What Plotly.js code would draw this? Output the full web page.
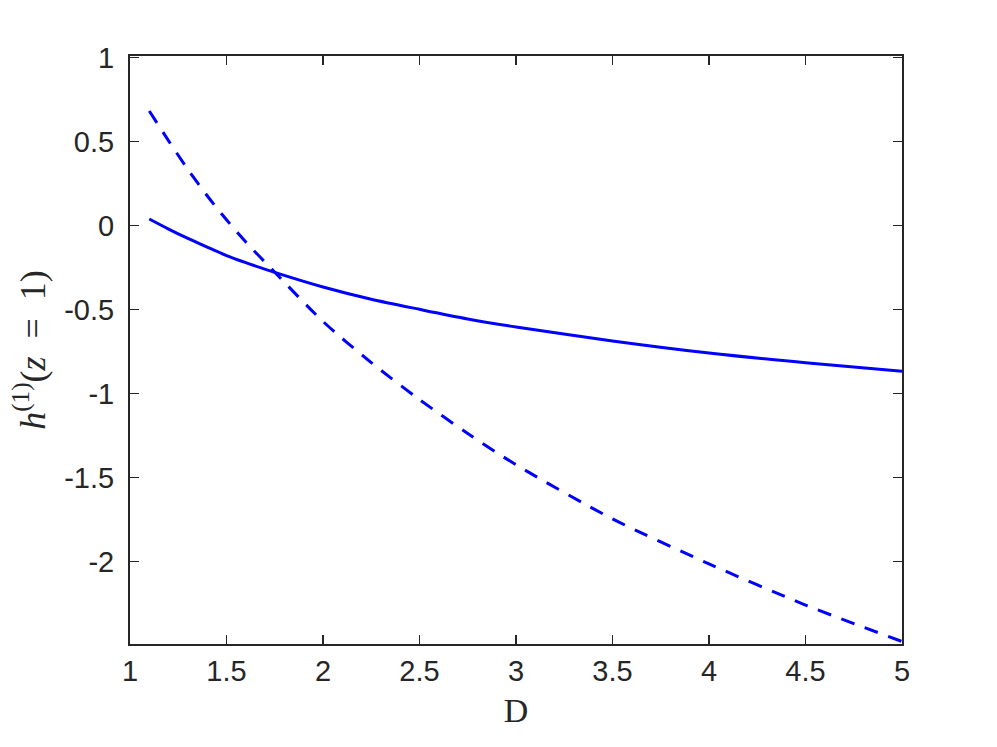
<!DOCTYPE html>
<html>
<head>
<meta charset="utf-8">
<script src="https://cdn.plot.ly/plotly-3.0.1.min.js"></script>
<style>
  html, body { margin: 0; padding: 0; background: #fff; }
  #plot { width: 997px; height: 747px; }
</style>
</head>
<body>
<div id="plot"></div>
<script>
// values
var D = [1.1, 1.2, 1.3, 1.4, 1.5, 1.6, 1.75, 2, 2.25, 2.5, 2.75, 3, 3.5, 4, 4.5, 5];
var hSolid = [0.04, -0.02, -0.076, -0.128, -0.178, -0.22, -0.278, -0.365, -0.438, -0.498, -0.555, -0.603, -0.686, -0.758, -0.816, -0.867];
var hDashed = [0.683, 0.505, 0.335, 0.178, 0.035, -0.097, -0.277, -0.57, -0.815, -1.035, -1.237, -1.423, -1.745, -2.013, -2.258, -2.475];

var xTicks = [1, 1.5, 2, 2.5, 3, 3.5, 4, 4.5, 5];
var xTickText = ['1', '1.5', '2', '2.5', '3', '3.5', '4', '4.5', '5'];
var yTicks = [1, 0.5, 0, -0.5, -1, -1.5, -2];
var yTickText = ['1', '0.5', '0', '-0.5', '-1', '-1.5', '-2'];

var axisColor = '#262626';

var traces = [
  {
    x: D, y: hSolid,
    type: 'scatter', mode: 'lines',
    line: {color: '#0000ff', width: 3, shape: 'spline', smoothing: 0.8},
    hoverinfo: 'skip'
  },
  {
    x: D, y: hDashed,
    type: 'scatter', mode: 'lines',
    line: {color: '#0000ff', width: 3, shape: 'spline', smoothing: 0.8, dash: '14px,11px'},
    hoverinfo: 'skip'
  }
];

var layout = {
  width: 997,
  height: 747,
  margin: {l: 130, r: 95, t: 56, b: 103},
  paper_bgcolor: '#ffffff',
  plot_bgcolor: '#ffffff',
  showlegend: false,
  font: {family: 'Liberation Sans, Arial, sans-serif', color: axisColor},
  xaxis: {
    range: [1, 5],
    tickvals: xTicks,
    ticktext: xTickText,
    ticks: 'inside',
    ticklen: 9,
    tickwidth: 1.5,
    tickcolor: axisColor,
    showline: true,
    linecolor: axisColor,
    linewidth: 2,
    mirror: 'ticks',
    showgrid: false,
    zeroline: false,
    tickfont: {size: 29, color: axisColor},
    ticklabelstandoff: 0,
    title: {
      text: 'D',
      font: {family: 'Liberation Serif, DejaVu Serif, serif', size: 34, color: axisColor},
      standoff: 12
    }
  },
  yaxis: {
    range: [-2.49, 1.01],
    tickvals: yTicks,
    ticktext: yTickText,
    ticks: 'inside',
    ticklen: 9,
    tickwidth: 1.5,
    tickcolor: axisColor,
    showline: true,
    linecolor: axisColor,
    linewidth: 2,
    mirror: 'ticks',
    showgrid: false,
    zeroline: false,
    tickfont: {size: 29, color: axisColor},
    ticklabelstandoff: 8,
    title: {
      text: '<i>h</i><sup>(1)</sup>(<i>z</i>&nbsp;&nbsp;=&nbsp;&nbsp;1)',
      font: {family: 'Liberation Serif, DejaVu Serif, serif', size: 36, color: axisColor},
      standoff: 8
    }
  }
};

Plotly.newPlot('plot', traces, layout, {staticPlot: true, displayModeBar: false});
</script>
</body>
</html>
